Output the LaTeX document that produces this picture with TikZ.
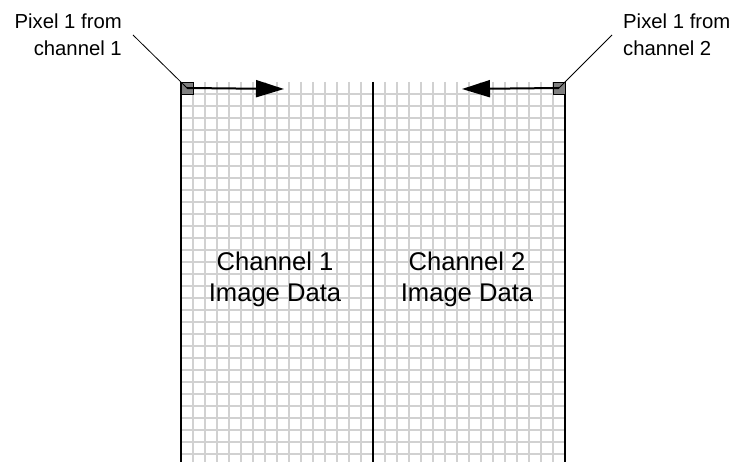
\documentclass[tikz,border=0pt]{standalone}
\usepackage{fontspec}
\setmainfont{Liberation Sans}
\usetikzlibrary{arrows.meta}
\begin{document}
\begin{tikzpicture}[x=1pt,y=-1pt,
  gridline/.style={draw=black!18, line width=1.2pt},
  edgeline/.style={draw=black, line width=1.4pt},
  midline/.style={draw=black, line width=2.5pt},
  pix/.style={draw=black, fill=black!50, line width=0.8pt, minimum size=12pt, inner sep=0pt},
  lbl/.style={font=\fontsize{20.3}{27}\selectfont, inner sep=0pt},
  body/.style={font=\fontsize{25.6}{31.5}\selectfont, inner sep=0pt, align=center},
  leader/.style={draw=black, line width=0.8pt},
  arr/.style={draw=black, line width=2pt, -{Triangle[length=28pt,width=17pt]}}
]
\useasboundingbox (0,0) rectangle (739,462);
% grid
\foreach \x in {193,205,...,553} \draw[gridline] (\x,82) -- (\x,462);
\foreach \y in {94,106,...,454} \draw[gridline] (181,\y) -- (565,\y);
% edges
\draw[edgeline] (181,82) -- (181,462);
\draw[edgeline] (565,82) -- (565,462);
\draw[midline] (373,82) -- (373,462);
% pixels
\node[pix] (p1) at (187,88) {};
\node[pix] (p2) at (559,88) {};
% arrows
\coordinate (a1) at (284,89);
\coordinate (a2) at (462,89);
\draw[arr] (p1.center) -- (a1);
\draw[arr] (p2.center) -- (a2);
% leaders
\coordinate (c1) at (133,35);
\coordinate (c2) at (612,35);
\draw[leader] (c1) -- (p1.center);
\draw[leader] (c2) -- (p2.center);
% labels
\node[lbl, anchor=north east, align=right] (l1) at (122,13.4) {Pixel 1 from\\channel 1};
\node[lbl, anchor=north west, align=left] (l2) at (623,13.4) {Pixel 1 from\\channel 2};
% body
\node[body, anchor=north] (t1) at (275,251.3) {Channel 1\\Image Data};
\node[body, anchor=north] (t2) at (467,251.3) {Channel 2\\Image Data};
\end{tikzpicture}
\end{document}
